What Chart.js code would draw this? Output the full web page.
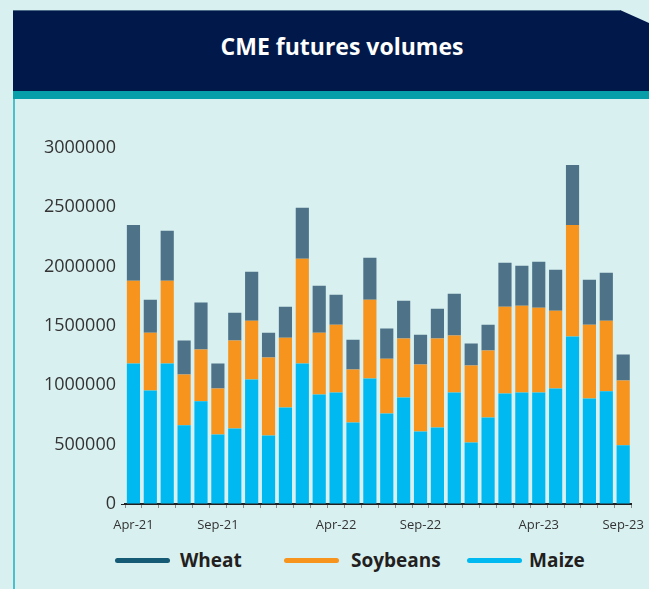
<!DOCTYPE html>
<html>
<head>
<meta charset="utf-8">
<script src="https://cdn.jsdelivr.net/npm/chart.js@4/dist/chart.umd.min.js"></script>
<style>
  html, body { margin: 0; padding: 0; }
  body { width: 649px; height: 589px; background: #d9f0f0; position: relative; overflow: hidden; font-family: "Open Sans", sans-serif; }
  #banner { position: absolute; left: 13px; top: 10px; width: 636px; height: 81px; background: #00194a;
            clip-path: polygon(0 0, 607px 0, 636px 13px, 636px 81px, 0 81px); }
  #bannerEdge { position: absolute; left: 13px; top: 10px; width: 607px; height: 1px; background: #4a6a85; }
  #title { position: absolute; left: 13px; top: 10px; width: 658px; height: 73px; line-height: 73px; text-align: center;
           color: #ffffff; font-weight: 700; font-size: 23px; }
  #stripe { position: absolute; left: 13px; top: 91px; width: 636px; height: 8px; background: #069ea9; }
  #leftLine { position: absolute; left: 13px; top: 99px; width: 2px; height: 490px; background: #4dbfca; }
  #wrap { position: absolute; left: 16px; top: 100px; width: 637px; height: 445px; }
  .lg { position: absolute; top: 547px; height: 26px; }
  .sw { position: absolute; top: 11px; height: 5px; width: 55px; border-radius: 3px; }
  .lt { position: absolute; top: 0; font-weight: 700; font-size: 19px; line-height: 26px; color: #231f20; white-space: nowrap; }
</style>
</head>
<body>
<div id="banner"></div>
<div id="bannerEdge"></div>
<div id="title">CME futures volumes</div>
<div id="stripe"></div>
<div id="leftLine"></div>
<div id="wrap"><canvas id="c" width="637" height="445"></canvas></div>
<div id="legend"></div>
<script>
const months = ["Apr-21","May-21","Jun-21","Jul-21","Aug-21","Sep-21","Oct-21","Nov-21","Dec-21","Jan-22","Feb-22","Mar-22",
                "Apr-22","May-22","Jun-22","Jul-22","Aug-22","Sep-22","Oct-22","Nov-22","Dec-22","Jan-23","Feb-23","Mar-23",
                "Apr-23","May-23","Jun-23","Jul-23","Aug-23","Sep-23"];
const shownLabels = ["Apr-21","Sep-21","Apr-22","Sep-22","Apr-23","Sep-23"];
const maize = [1183000,956000,1183000,664000,866000,586000,637000,1049000,578000,813000,1183000,923000,
               940000,687000,1057000,763000,897000,611000,645000,940000,519000,729000,931000,940000,
               940000,973000,1411000,889000,950000,496000];
const soybeans = [698000,488000,698000,427000,435000,387000,740000,496000,656000,589000,884000,521000,
                  571000,446000,665000,462000,497000,564000,749000,479000,648000,564000,732000,731000,
                  714000,656000,941000,622000,595000,544000];
const wheat = [471000,278000,421000,286000,396000,210000,235000,412000,210000,261000,429000,396000,
               253000,252000,353000,253000,319000,252000,252000,353000,185000,218000,370000,337000,
               387000,345000,505000,379000,404000,219000];
const yTicks = [0,500000,1000000,1500000,2000000,2500000,3000000];
const seriesNames = ["Wheat","Soybeans","Maize"];

const colMaize = "#00b9f0", colSoy = "#f7941e", colWheat = "#4e7389", colWheatLegend = "#165b75";

new Chart(document.getElementById("c"), {
  type: "bar",
  data: {
    labels: months,
    datasets: [
      { label: seriesNames[2], data: maize, backgroundColor: colMaize },
      { label: seriesNames[1], data: soybeans, backgroundColor: colSoy },
      { label: seriesNames[0], data: wheat, backgroundColor: colWheat }
    ]
  },
  options: {
    responsive: false,
    animation: false,
    devicePixelRatio: 1,
    layout: { padding: { top: 48, right: 6, bottom: 11, left: 0 } },
    datasets: { bar: { barPercentage: 0.78, categoryPercentage: 1.0, borderWidth: 0 } },
    plugins: { legend: { display: false }, tooltip: { enabled: false } },
    scales: {
      x: {
        stacked: true,
        offset: true,
        grid: { display: true, drawOnChartArea: false, tickLength: 4, color: "#8a8a8a", offset: true },
        border: { display: true, color: "#231f20", width: 2 },
        ticks: {
          autoSkip: false, maxRotation: 0, minRotation: 0, padding: 9,
          color: "#333333", font: { family: "Open Sans", size: 13 },
          callback: function (v, i) { const l = months[i]; return shownLabels.includes(l) ? l : ""; }
        },
        afterFit: function (s) { s.height = 30; }
      },
      y: {
        stacked: true,
        min: 0, max: 3000000,
        afterBuildTicks: function (s) { s.ticks = yTicks.map(v => ({ value: v })); },
        grid: { display: true, drawOnChartArea: false, tickLength: 4,
                color: function (ctx) { return ctx.tick && ctx.tick.value === 0 ? "#231f20" : "rgba(0,0,0,0)"; } },
        border: { display: false },
        ticks: { padding: 5, color: "#333333", font: { family: "Open Sans", size: 18 },
                 callback: function (v) { return String(v); } },
        afterFit: function (s) { s.width = 109; }
      }
    }
  }
});

const legendDefs = [
  { name: seriesNames[0], color: colWheatLegend, sw: 115, tx: 180 },
  { name: seriesNames[1], color: colSoy, sw: 284, tx: 351 },
  { name: seriesNames[2], color: colMaize, sw: 467, tx: 529 }
];
const lg = document.getElementById("legend");
legendDefs.forEach(d => {
  const s = document.createElement("div"); s.className = "lg sw"; s.style.left = d.sw + "px"; s.style.top = "558px"; s.style.background = d.color;
  const t = document.createElement("div"); t.className = "lg lt"; t.style.left = d.tx + "px"; t.style.top = "547px"; t.textContent = d.name;
  lg.appendChild(s); lg.appendChild(t);
});
</script>
</body>
</html>
